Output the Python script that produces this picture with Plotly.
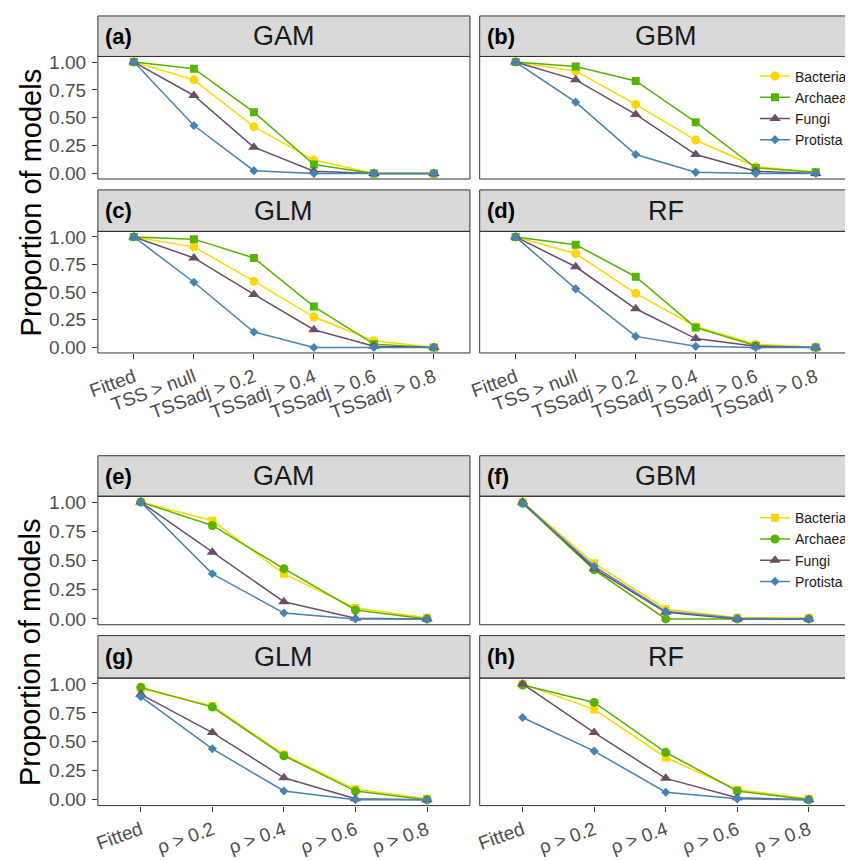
import plotly.graph_objects as go

# ---------------- data ----------------
categories_tss = ["Fitted", "TSS > null", "TSSadj > 0.2", "TSSadj > 0.4", "TSSadj > 0.6", "TSSadj > 0.8"]
categories_rho = ["Fitted", "ρ > 0.2", "ρ > 0.4", "ρ > 0.6", "ρ > 0.8"]
series_names = ["Bacteria", "Archaea", "Fungi", "Protista"]
ytick_vals = [0, 0.25, 0.5, 0.75, 1.0]
ytick_text = ["0.00", "0.25", "0.50", "0.75", "1.00"]

# (a) GAM - TSS
gam_tss_bacteria = [1.00, 0.84, 0.42, 0.12, 0.00, 0.00]
gam_tss_archaea = [1.00, 0.94, 0.55, 0.08, 0.00, 0.00]
gam_tss_fungi = [1.00, 0.70, 0.235, 0.02, 0.00, 0.00]
gam_tss_protista = [1.00, 0.43, 0.025, 0.00, 0.00, 0.00]
# (b) GBM - TSS
gbm_tss_bacteria = [1.00, 0.92, 0.62, 0.30, 0.06, 0.01]
gbm_tss_archaea = [1.00, 0.96, 0.83, 0.46, 0.05, 0.01]
gbm_tss_fungi = [1.00, 0.84, 0.53, 0.17, 0.02, 0.00]
gbm_tss_protista = [1.00, 0.64, 0.17, 0.01, 0.00, 0.00]
# (c) GLM - TSS
glm_tss_bacteria = [1.00, 0.91, 0.60, 0.275, 0.06, 0.00]
glm_tss_archaea = [1.00, 0.98, 0.81, 0.37, 0.03, 0.00]
glm_tss_fungi = [1.00, 0.81, 0.48, 0.16, 0.01, 0.00]
glm_tss_protista = [1.00, 0.59, 0.14, 0.00, 0.00, 0.00]
# (d) RF - TSS
rf_tss_bacteria = [1.00, 0.85, 0.49, 0.19, 0.03, 0.00]
rf_tss_archaea = [1.00, 0.93, 0.64, 0.18, 0.015, 0.00]
rf_tss_fungi = [1.00, 0.73, 0.35, 0.08, 0.01, 0.00]
rf_tss_protista = [1.00, 0.53, 0.10, 0.01, 0.00, 0.00]
# (e) GAM - rho
gam_rho_bacteria = [1.00, 0.84, 0.386, 0.093, 0.01]
gam_rho_archaea = [1.00, 0.80, 0.43, 0.076, 0.00]
gam_rho_fungi = [1.00, 0.57, 0.146, 0.006, 0.00]
gam_rho_protista = [1.00, 0.386, 0.05, 0.00, 0.00]
# (f) GBM - rho
gbm_rho_bacteria = [1.00, 0.476, 0.085, 0.01, 0.01]
gbm_rho_archaea = [0.99, 0.42, 0.00, 0.00, 0.00]
gbm_rho_fungi = [1.00, 0.43, 0.056, 0.00, 0.00]
gbm_rho_protista = [0.99, 0.45, 0.065, 0.005, 0.00]
# (g) GLM - rho
glm_rho_bacteria = [0.96, 0.81, 0.39, 0.09, 0.01]
glm_rho_archaea = [0.97, 0.80, 0.38, 0.075, 0.00]
glm_rho_fungi = [0.91, 0.58, 0.19, 0.01, 0.00]
glm_rho_protista = [0.89, 0.44, 0.076, 0.00, 0.00]
# (h) RF - rho
rf_rho_bacteria = [1.00, 0.78, 0.365, 0.087, 0.01]
rf_rho_archaea = [0.99, 0.84, 0.41, 0.076, 0.00]
rf_rho_fungi = [1.00, 0.58, 0.185, 0.017, 0.00]
rf_rho_protista = [0.71, 0.42, 0.065, 0.008, 0.00]

# ---------------- styling ----------------
OFF = 8                      # page body margin offset
W, H = 853 - OFF, 860 - OFF  # figure size


def fx(p):
    return (p - OFF) / W


def fy(p):
    return 1 - (p - OFF) / H


colors = {"Bacteria": "#FFD700", "Archaea": "#55B400", "Fungi": "#6B4E68", "Protista": "#4682B4"}
symbols_tss = {"Bacteria": "circle", "Archaea": "square", "Fungi": "triangle-up", "Protista": "diamond"}
symbols_rho = {"Bacteria": "square", "Archaea": "circle", "Fungi": "triangle-up", "Protista": "diamond"}
msize = {"circle": 9, "square": 8, "triangle-up": 10, "diamond": 7}

panels = [
    ("(a)", "GAM", 0, 0, "tss", [gam_tss_bacteria, gam_tss_archaea, gam_tss_fungi, gam_tss_protista]),
    ("(b)", "GBM", 1, 0, "tss", [gbm_tss_bacteria, gbm_tss_archaea, gbm_tss_fungi, gbm_tss_protista]),
    ("(c)", "GLM", 0, 1, "tss", [glm_tss_bacteria, glm_tss_archaea, glm_tss_fungi, glm_tss_protista]),
    ("(d)", "RF", 1, 1, "tss", [rf_tss_bacteria, rf_tss_archaea, rf_tss_fungi, rf_tss_protista]),
    ("(e)", "GAM", 0, 2, "rho", [gam_rho_bacteria, gam_rho_archaea, gam_rho_fungi, gam_rho_protista]),
    ("(f)", "GBM", 1, 2, "rho", [gbm_rho_bacteria, gbm_rho_archaea, gbm_rho_fungi, gbm_rho_protista]),
    ("(g)", "GLM", 0, 3, "rho", [glm_rho_bacteria, glm_rho_archaea, glm_rho_fungi, glm_rho_protista]),
    ("(h)", "RF", 1, 3, "rho", [rf_rho_bacteria, rf_rho_archaea, rf_rho_fungi, rf_rho_protista]),
]

# positions in window pixels
plot_rows = {0: (52, 176), 1: (229, 352), 2: (497, 627), 3: (681, 810)}
strip_rows = {0: (11, 52), 1: (187, 229), 2: (456, 497), 3: (638, 681)}
cols = {0: (89, 471), 1: (481, 863)}
FULL_W = 382
VIS_RIGHT = 853

fig = go.Figure()
shapes = []
annotations = []
font_family = "Liberation Sans, Arial, sans-serif"

for i, (tag, title, col, row, group, data) in enumerate(panels):
    n = i + 1
    xname = "xaxis" if n == 1 else f"xaxis{n}"
    yname = "yaxis" if n == 1 else f"yaxis{n}"
    xref = "x" if n == 1 else f"x{n}"
    yref = "y" if n == 1 else f"y{n}"
    cats = categories_tss if group == "tss" else categories_rho
    syms = symbols_tss if group == "tss" else symbols_rho
    span = len(cats) - 1 + 1.2
    x0p, x1p = cols[col]
    vis_r = min(x1p, VIS_RIGHT)
    rng = [-0.6, -0.6 + (vis_r - x0p) * span / FULL_W]
    y0p, y1p = plot_rows[row]
    bottom_row = row in (1, 3)

    fig.layout[xname] = dict(
        domain=[fx(x0p), min(fx(vis_r), 1.0)], range=rng, type="category",
        categoryorder="array", categoryarray=cats, anchor=yref,
        showgrid=False, zeroline=False, showline=False,
        ticks="outside" if bottom_row else "", ticklen=5, tickwidth=1, tickcolor="#333333",
        showticklabels=bottom_row, tickangle=-20,
        tickfont=dict(size=19, color="#4D4D4D", family=font_family),
    )
    fig.layout[yname] = dict(
        domain=[fy(y1p), fy(y0p)], range=[-0.05, 1.05], anchor=xref,
        showgrid=False, zeroline=False, showline=False,
        tickvals=ytick_vals, ticktext=ytick_text,
        ticks="outside" if col == 0 else "", ticklen=5, tickwidth=1, tickcolor="#333333",
        showticklabels=(col == 0), ticklabelstandoff=2,
        tickfont=dict(size=19, color="#4D4D4D", family=font_family),
    )

    legend_id = "legend" if group == "tss" else "legend2"
    show_leg = n in (1, 5)
    for name, vals in zip(series_names, data):
        sym = syms[name]
        fig.add_trace(go.Scatter(
            x=cats, y=vals, mode="lines+markers", name=name,
            xaxis=xref, yaxis=yref,
            line=dict(color=colors[name], width=1.5),
            marker=dict(symbol=sym, size=msize[sym], color=colors[name]),
            showlegend=show_leg, legend=legend_id,
        ))

    # panel border
    shapes.append(dict(type="rect", xref="paper", yref="paper",
                       x0=fx(x0p), x1=fx(x1p), y0=fy(y1p), y1=fy(y0p),
                       line=dict(color="#333333", width=1), fillcolor="rgba(0,0,0,0)", layer="above"))
    # strip
    s0, s1 = strip_rows[row]
    shapes.append(dict(type="rect", xref="paper", yref="paper",
                       x0=fx(x0p), x1=fx(x1p), y0=fy(s1), y1=fy(s0),
                       line=dict(color="#333333", width=1), fillcolor="#D9D9D9", layer="below"))
    annotations.append(dict(text=title, xref="paper", yref="paper",
                            x=fx(x0p + FULL_W / 2), y=fy((s0 + s1) / 2),
                            xanchor="center", yanchor="middle", showarrow=False,
                            font=dict(size=27, color="#1A1A1A", family=font_family)))
    annotations.append(dict(text=f"<b>{tag}</b>", xref="paper", yref="paper",
                            x=fx(x0p + 5), y=fy((s0 + s1) / 2),
                            xanchor="left", yanchor="middle", showarrow=False,
                            font=dict(size=22, color="#000000", family=font_family)))

for yc in (200, 655):
    annotations.append(dict(text="Proportion of models", xref="paper", yref="paper",
                            x=fx(20), y=fy(yc), textangle=-90,
                            xanchor="center", yanchor="middle", showarrow=False,
                            font=dict(size=29, color="#000000", family=font_family)))

legend_style = dict(xanchor="left", yanchor="top", bgcolor="rgba(0,0,0,0)",
                    font=dict(size=14, color="#1A1A1A", family=font_family),
                    itemwidth=30, tracegroupgap=0)

fig.update_layout(
    width=W, height=H,
    margin=dict(l=0, r=0, t=0, b=0),
    paper_bgcolor="white", plot_bgcolor="white",
    font=dict(family=font_family),
    shapes=shapes, annotations=annotations,
    legend=dict(x=fx(764), y=fy(56), **legend_style),
    legend2=dict(x=fx(764), y=fy(503), **legend_style),
)

fig.write_html("out.html")
